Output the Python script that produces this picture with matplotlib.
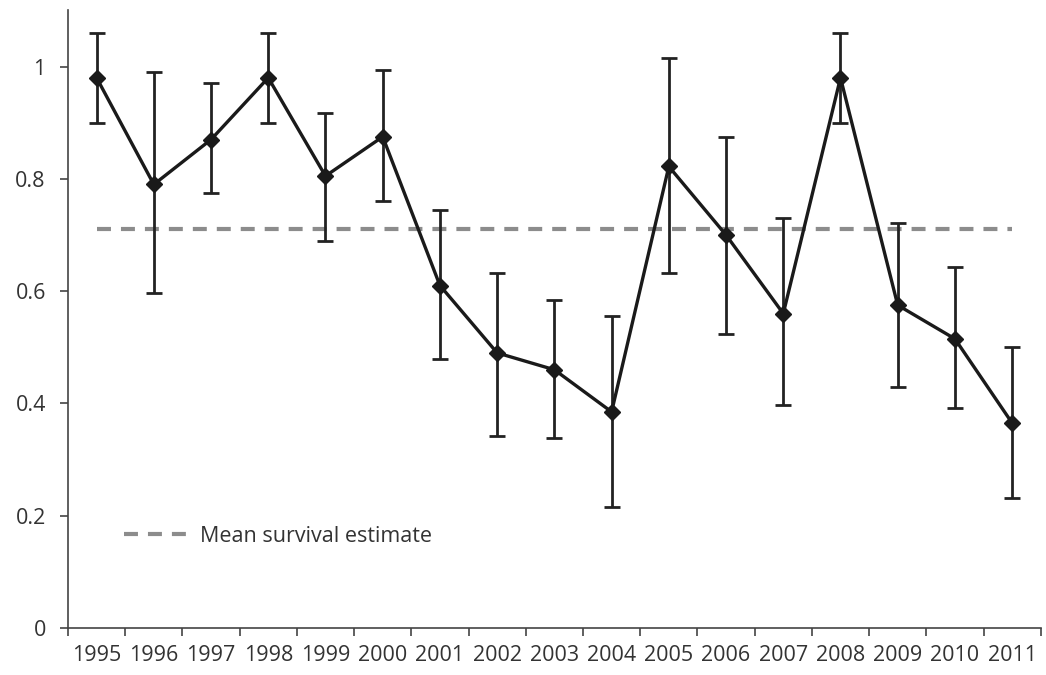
import numpy as np
import matplotlib.pyplot as plt

years = [str(y) for y in range(1995, 2012)]
survival = [0.98, 0.79, 0.87, 0.98, 0.805, 0.875, 0.61, 0.49, 0.46, 0.385,
            0.822, 0.70, 0.56, 0.98, 0.575, 0.515, 0.365]
upper = [1.06, 0.99, 0.97, 1.06, 0.918, 0.993, 0.745, 0.632, 0.584, 0.555,
         1.016, 0.875, 0.73, 1.06, 0.722, 0.643, 0.50]
lower = [0.90, 0.596, 0.774, 0.90, 0.69, 0.76, 0.48, 0.342, 0.338, 0.215,
         0.633, 0.523, 0.397, 0.90, 0.43, 0.392, 0.232]
mean_survival = 0.71

plt.rcParams['font.family'] = ['Open Sans', 'DejaVu Sans']

fig = plt.figure(figsize=(10.46, 6.75), dpi=100)
ax = fig.add_axes([0.065, 0.0696, 0.93, 0.915])

x = np.arange(len(years))
s = np.array(survival)
yerr = [s - np.array(lower), np.array(upper) - s]

ax.plot([x[0], x[-1]], [mean_survival, mean_survival], color='#8c8c8c',
        lw=3, dashes=(3.35, 2.4), label='Mean survival estimate', zorder=1)
ax.errorbar(x, s, yerr=yerr, fmt='none', ecolor='#222222', elinewidth=2,
            capsize=6, capthick=2, zorder=2)
ax.plot(x, s, color='#1a1a1a', lw=2.4, marker='D', markersize=8, zorder=3)

ax.set_xlim(-0.5, len(years) - 0.5)
ax.set_ylim(0, 1.1)
ax.set_yticks([0, 0.2, 0.4, 0.6, 0.8, 1.0])
ax.set_yticklabels(['0', '0.2', '0.4', '0.6', '0.8', '1'])
ax.set_xticks(x)
ax.set_xticklabels(years)
ax.set_xticks(np.arange(len(years) + 1) - 0.5, minor=True)
ax.tick_params(axis='x', which='major', length=0, pad=12, labelsize=15.5, colors='#333333')
ax.tick_params(axis='x', which='minor', length=6, width=1.2, color='#444444')
ax.tick_params(axis='y', length=6, width=1.2, color='#444444', labelsize=15.5,
               labelcolor='#333333', pad=10)

for side in ['top', 'right']:
    ax.spines[side].set_visible(False)
for side in ['left', 'bottom']:
    ax.spines[side].set_color('#444444')
    ax.spines[side].set_linewidth(1.2)

ax.legend(loc='lower left', bbox_to_anchor=(0.038, 0.1), frameon=False,
          fontsize=15.5, handlelength=3.1, handletextpad=0.4,
          labelcolor='#333333')

fig.savefig('out.png', dpi=100)
